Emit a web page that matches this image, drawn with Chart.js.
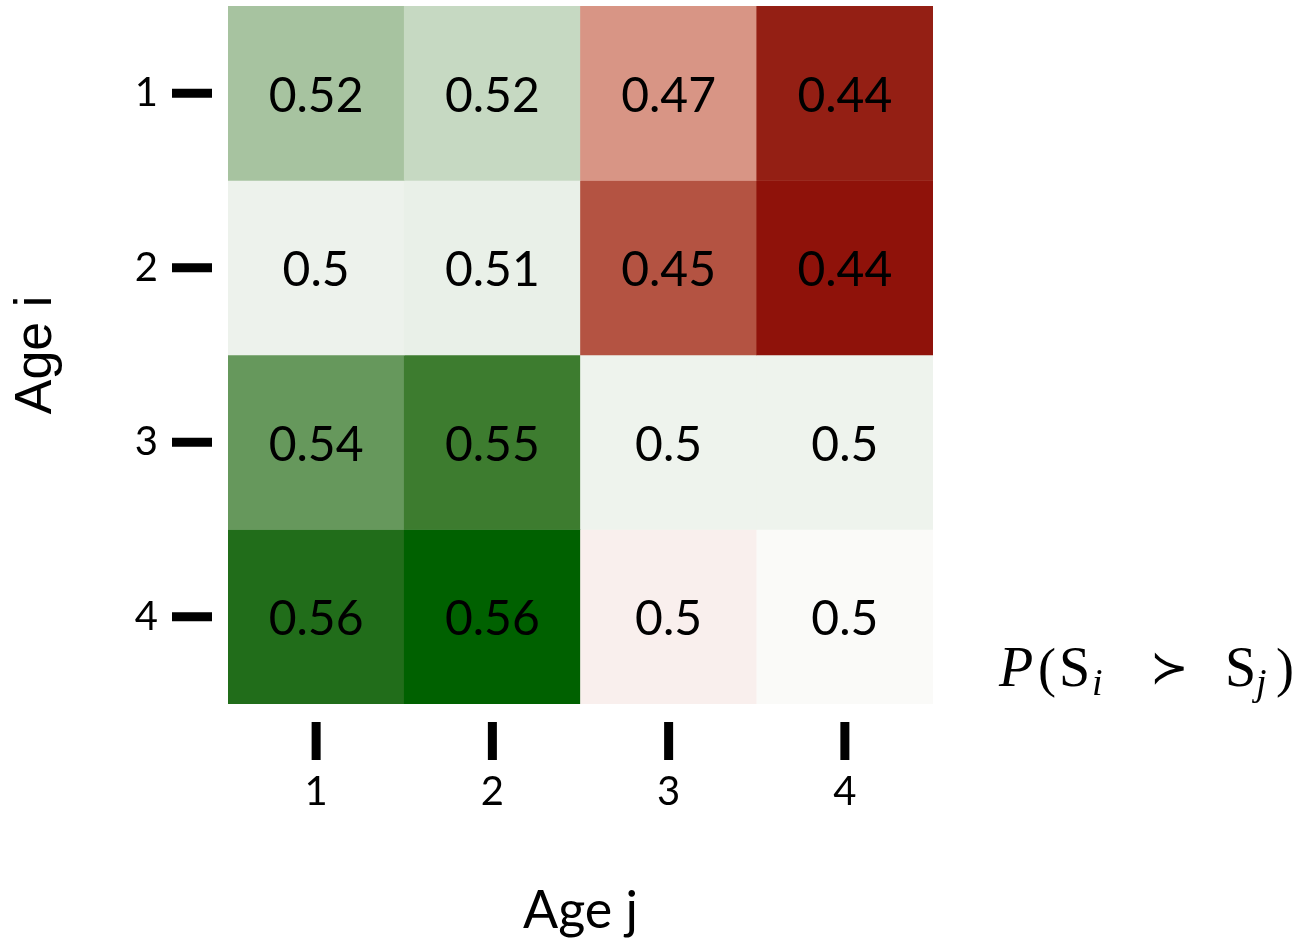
<!DOCTYPE html>
<html>
<head>
<meta charset="utf-8">
<script src="https://cdn.jsdelivr.net/npm/chart.js@4.4.1/dist/chart.umd.min.js"></script>
<style>
  html, body { margin: 0; padding: 0; background: #fff; }
  #wrap { width: 1307px; height: 940px; }
</style>
</head>
<body>
<div id="wrap"><canvas id="heat" width="1307" height="940"></canvas></div>
<script>
// Age i (rows, top to bottom) and Age j (columns)
const rowLabels = ['1', '2', '3', '4'];
const colLabels = ['1', '2', '3', '4'];

// P(S_i > S_j), one array per row (Age i)
const row1 = [0.521, 0.516, 0.469, 0.441];
const row2 = [0.503, 0.506, 0.451, 0.438];
const row3 = [0.537, 0.548, 0.502, 0.502];
const row4 = [0.556, 0.562, 0.4965, 0.500];
const rows = [row1, row2, row3, row4];

// diverging colour scale: red below 0.5, green above
const center = 0.5;
const span = 0.062;
const greenStops = [[0, [250, 250, 248]], [0.03, [238, 243, 237]], [0.1, [233, 240, 232]], [0.26, [198, 217, 194]],
    [0.34, [167, 195, 159]], [0.6, [101, 151, 91]], [0.77, [62, 124, 48]], [0.89, [38, 111, 29]], [1, [0, 97, 0]]];
const redStops = [[0, [250, 250, 248]], [0.06, [249, 238, 236]], [0.5, [216, 149, 133]],
    [0.79, [180, 83, 66]], [0.95, [148, 31, 20]], [1, [143, 18, 10]]];

function cellColor(v) {
    const f = Math.min(1, Math.abs(v - center) / span);
    const stops = v >= center ? greenStops : redStops;
    for (let k = 1; k < stops.length; k++) {
        if (f <= stops[k][0]) {
            const [f0, c0] = stops[k - 1];
            const [f1, c1] = stops[k];
            const t = (f - f0) / (f1 - f0);
            const c = c0.map((a, n) => Math.round(a + (c1[n] - a) * t));
            return `rgb(${c[0]},${c[1]},${c[2]})`;
        }
    }
    const c = stops[stops.length - 1][1];
    return `rgb(${c[0]},${c[1]},${c[2]})`;
}

function fmt(v) {
    return String(+v.toFixed(2));
}

const cellFont = '48px Lato';
const tickFont = { family: 'Lato', size: 40 };

// values printed in the middle of each cell
const cellLabels = {
    id: 'cellLabels',
    afterDatasetsDraw(chart) {
        const ctx = chart.ctx;
        ctx.save();
        ctx.font = cellFont;
        ctx.fillStyle = '#000';
        ctx.textAlign = 'center';
        ctx.textBaseline = 'middle';
        chart.data.datasets.forEach((ds, i) => {
            const meta = chart.getDatasetMeta(i);
            meta.data.forEach((el, j) => {
                const cy = (el.y + el.base) / 2;
                ctx.fillText(fmt(rows[i][j]), el.x, cy + 3);
            });
        });
        ctx.restore();
    }
};

// thick tick marks, set apart from the cells
const tickMarks = {
    id: 'tickMarks',
    afterDraw(chart) {
        const ctx = chart.ctx;
        const area = chart.chartArea;
        const xs = chart.scales.x;
        const ys = chart.scales.y;
        ctx.save();
        ctx.fillStyle = '#000';
        ys.ticks.forEach(t => {
            const py = ys.getPixelForValue(t.value);
            ctx.fillRect(area.left - 56, py - 4.5, 40, 9);
        });
        xs.ticks.forEach((t, k) => {
            const px = xs.getPixelForTick(k);
            ctx.fillRect(px - 4.5, area.bottom + 18, 9, 38);
        });
        ctx.restore();
    }
};

// colour-scale caption P(S_i ≻ S_j)
const mathLabel = {
    id: 'mathLabel',
    afterDraw(chart) {
        const ctx = chart.ctx;
        const base = 686;
        const parts = [
            ['P', 999, 0, 'italic 56px "Liberation Serif"'],
            ['(', 1038, 0, '54px "Liberation Serif"'],
            ['S', 1059, 0, '56px "Liberation Serif"'],
            ['i', 1092, 9, 'italic 38px "Liberation Serif"'],
            ['\u227B', 1150, -3, '46px "DejaVu Sans"'],
            ['S', 1225, 0, '56px "Liberation Serif"'],
            ['j', 1256, 9, 'italic 38px "Liberation Serif"'],
            [')', 1276, 0, '54px "Liberation Serif"']
        ];
        ctx.save();
        ctx.fillStyle = '#000';
        ctx.textAlign = 'left';
        ctx.textBaseline = 'alphabetic';
        parts.forEach(([txt, x, dy, font]) => {
            ctx.font = font;
            ctx.fillText(txt, x, base + dy);
        });
        ctx.restore();
    }
};

const datasets = rows.map((vals, i) => ({
    label: 'Age ' + rowLabels[i],
    data: vals.map(() => [i + 0.5, i + 1.5]),
    backgroundColor: vals.map(cellColor),
    borderWidth: 0,
    borderSkipped: false,
    grouped: false,
    barPercentage: 1,
    categoryPercentage: 1
}));

new Chart(document.getElementById('heat'), {
    type: 'bar',
    data: { labels: colLabels, datasets: datasets },
    options: {
        responsive: false,
        animation: false,
        layout: { padding: { top: 6, right: 374, left: 0, bottom: 0 } },
        plugins: {
            legend: { display: false },
            tooltip: { enabled: false }
        },
        scales: {
            x: {
                type: 'category',
                offset: true,
                grid: { display: false, drawTicks: false },
                border: { display: false },
                ticks: { color: '#000', font: tickFont, padding: 64, maxRotation: 0 },
                title: {
                    display: true, text: 'Age j', color: '#000',
                    font: { family: 'Lato', size: 52, lineHeight: 1 },
                    padding: { top: 0, bottom: 3 }
                },
                afterFit(s) {
                    s.height = 236;
                    s.paddingLeft = 0;
                    s.paddingRight = 0;
                }
            },
            y: {
                type: 'linear',
                reverse: true,
                min: 0.5,
                max: 4.5,
                grid: { display: false, drawTicks: false },
                border: { display: false },
                afterBuildTicks(s) { s.ticks = rowLabels.map((_, i) => ({ value: i + 1 })); },
                ticks: {
                    color: '#000', font: tickFont, padding: 70,
                    callback: (v) => rowLabels[v - 1]
                },
                title: {
                    display: true, text: 'Age i', color: '#000',
                    font: { family: 'Liberation Sans', size: 52, lineHeight: 1 },
                    padding: { top: 11, bottom: 0 }
                },
                afterFit(s) {
                    s.width = 228;
                    s.paddingTop = 0;
                    s.paddingBottom = 0;
                }
            }
        }
    },
    plugins: [cellLabels, tickMarks, mathLabel]
});
</script>
</body>
</html>
